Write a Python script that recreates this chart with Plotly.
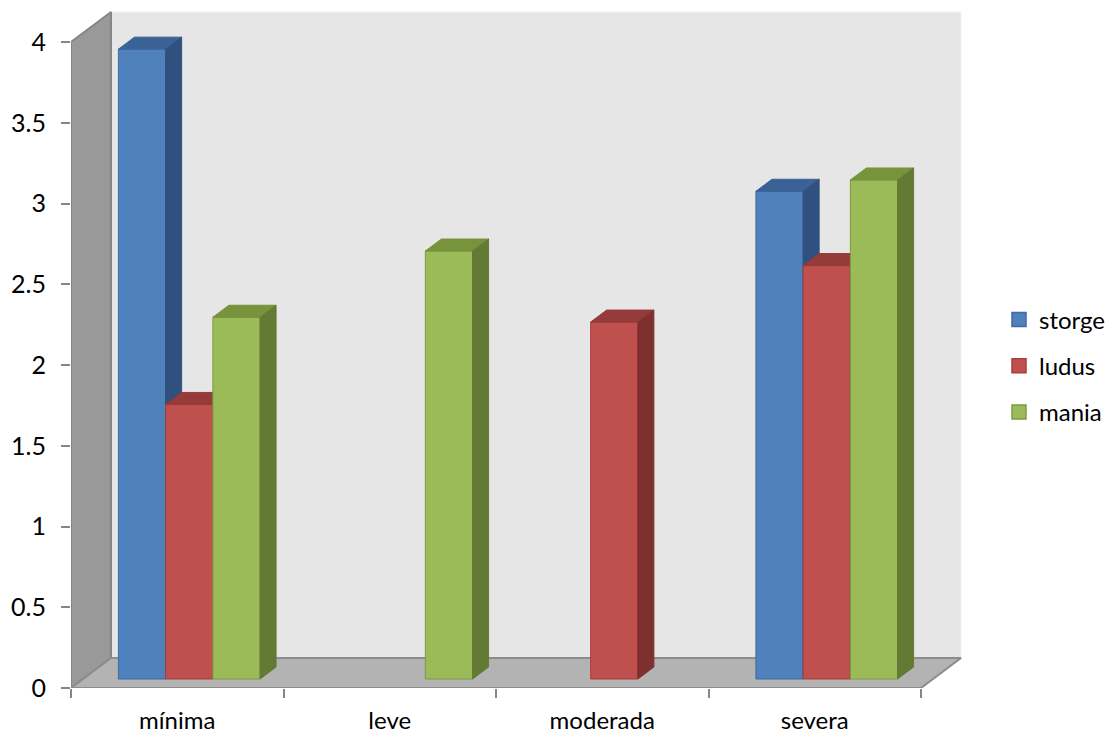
import plotly.graph_objects as go

categories = ["mínima", "leve", "moderada", "severa"]
series_names = ["storge", "ludus", "mania"]
storge = [3.9, None, None, 3.02]
ludus = [1.7, None, 2.21, 2.56]
mania = [2.24, 2.65, None, 3.09]
y_ticks = [0, 0.5, 1, 1.5, 2, 2.5, 3, 3.5, 4]
y_ticktext = ["0", "0.5", "1", "1.5", "2", "2.5", "3", "3.5", "4"]

series_values = [storge, ludus, mania]
# style: front, top, side, edge
face_colors = [
    ("#4F81BD", "#3B6297", "#30517F", "#3D6BA3"),
    ("#C0504D", "#953B39", "#7E302E", "#A5403E"),
    ("#9BBB59", "#77933C", "#637A35", "#7E9B43"),
]

# oblique-projection depth offsets (category units / value units for full depth)
DX = 40 / 212.5
DY = 30 / 161.5
D0, D1 = 0.3, 0.7          # bar front / back depth fraction
BW = 1 / 4.5               # bar width (gap width 150%)
YMAX_AX = 4

fig = go.Figure()


def poly(xs, ys, fill, line, width=1):
    fig.add_trace(go.Scatter(
        x=xs + [xs[0]], y=ys + [ys[0]], mode="lines", fill="toself",
        fillcolor=fill, line=dict(color=line, width=width),
        hoverinfo="skip", showlegend=False))


x0, x1 = -0.5, len(categories) - 0.5
# back wall
poly([x0 + DX, x1 + DX, x1 + DX, x0 + DX],
     [DY, DY, YMAX_AX + DY, YMAX_AX + DY], "#E6E6E6", "#F2F2F2")
# left wall
poly([x0, x0 + DX, x0 + DX, x0],
     [0, DY, YMAX_AX + DY, YMAX_AX], "#999999", "#868686", 2)
# floor
poly([x0, x1, x1 + DX, x0 + DX],
     [0, 0, DY, DY], "#B3B3B3", "#8C8C8C", 2)

# bars, drawn left to right
for i in range(len(categories)):
    for j, vals in enumerate(series_values):
        v = vals[i]
        if v is None:
            continue
        front, top, side, edge = face_colors[j]
        xl = i - 1.5 * BW + j * BW + D0 * DX
        xr = xl + BW
        yb = D0 * DY
        yt = v + D0 * DY
        ddx = (D1 - D0) * DX
        ddy = (D1 - D0) * DY
        # front face
        poly([xl, xr, xr, xl], [yb, yb, yt, yt], front, edge)
        # top face
        poly([xl, xr, xr + ddx, xl + ddx], [yt, yt, yt + ddy, yt + ddy], top, top)
        # right side face
        poly([xr, xr + ddx, xr + ddx, xr], [yb, yb + ddy, yt + ddy, yt], side, side)

# legend entries
for j, name in enumerate(series_names):
    front, top, side, edge = face_colors[j]
    fig.add_trace(go.Scatter(
        x=[None], y=[None], mode="markers", name=name, legendgroup=name,
        marker=dict(symbol="square", size=14, color=front,
                    line=dict(color=edge, width=1.5))))

fig.update_layout(
    width=1110, height=736,
    margin=dict(l=71, r=139, t=8, b=48, autoexpand=False),
    paper_bgcolor="white", plot_bgcolor="white",
    font=dict(family="Lato, Open Sans, sans-serif", size=25, color="#000000"),
    showlegend=True,
    legend=dict(xref="container", yref="container",
                x=0.9, xanchor="left", y=0.5027, yanchor="middle",
                tracegroupgap=12, font=dict(size=24),
                bgcolor="rgba(0,0,0,0)"),
    hovermode=False,
)
fig.update_xaxes(
    range=[-0.5, (971 - 71) / 212.5 - 0.5],
    tickmode="array", tickvals=list(range(len(categories))), ticktext=categories,
    ticks="outside", ticklen=0, tickcolor="#868686",
    minor=dict(tickmode="array", tickvals=[k - 0.5 for k in range(len(categories) + 1)],
               ticks="outside", ticklen=9, tickcolor="#868686", tickwidth=1.5),
    showgrid=False, zeroline=False, showline=False,
    ticklabelstandoff=11, automargin=False, tickfont=dict(size=24),
)
fig.update_yaxes(
    range=[0, (688 - 8) / 161.5],
    tickmode="array", tickvals=y_ticks, ticktext=y_ticktext,
    ticks="outside", ticklen=9, tickcolor="#868686", tickwidth=1.5,
    showgrid=False, zeroline=False, showline=False,
    ticklabelstandoff=10, automargin=False,
)

fig.write_html("out.html")
